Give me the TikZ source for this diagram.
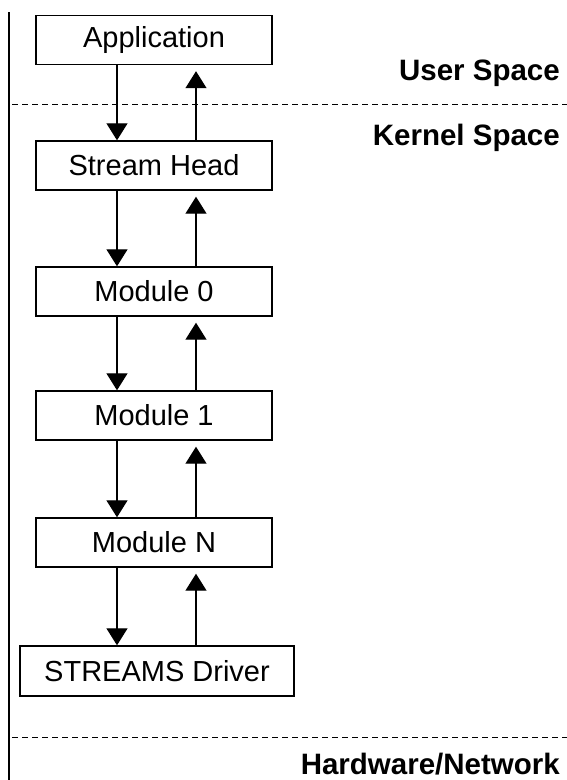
\documentclass[tikz,border=0pt]{standalone}
\usepackage{fontspec}
\setmainfont{Liberation Sans}
\usetikzlibrary{arrows.meta}
\begin{document}
\begin{tikzpicture}[x=1pt,y=-1pt,
  box/.style={draw,line width=1.4pt,minimum width=236pt,minimum height=49pt,inner sep=0pt,
    font=\fontsize{29}{32}\selectfont},
  arr/.style={line width=1.3pt,-{Triangle[width=21pt,length=17pt]}},
  sep/.style={line width=1pt,dash pattern=on 6pt off 4pt},
  lbl/.style={anchor=base east,inner sep=0pt,font=\fontsize{29.5}{32}\selectfont\bfseries}]
\useasboundingbox (0,0) rectangle (567,780);
\node[box] (app) at (154,40) {Application};
\node[box] (head) at (154,165.5) {Stream Head};
\node[box] (m0) at (154,291.5) {Module 0};
\node[box] (m1) at (154,415.5) {Module 1};
\node[box] (mn) at (154,542.5) {Module N};
\node[box,minimum width=274pt,minimum height=50pt] (drv) at (157,671) {STREAMS Driver};
\coordinate (dx) at (117,0);
\coordinate (ux) at (196,0);
\foreach \a/\b in {app/head,head/m0,m0/m1,m1/mn,mn/drv}{
  \draw[arr] (\a.south -| dx) -- (\b.north -| dx);
  \draw[arr,shorten >=6pt] (\b.north -| ux) -- (\a.south -| ux);
}
\coordinate (vt) at (9,12);
\coordinate (vb) at (9,780);
\draw[line width=1.2pt] (vt) -- (vb);
\coordinate (d1l) at (12,104);
\coordinate (d1r) at (567,104);
\coordinate (d2l) at (12,737);
\coordinate (d2r) at (567,737);
\draw[sep] (d1l) -- (d1r);
\draw[sep] (d2l) -- (d2r);
\node[lbl] (us) at (560,80) {User Space};
\node[lbl] (ks) at (560,145) {Kernel Space};
\node[lbl] (hw) at (560,774) {Hardware/Network};
\end{tikzpicture}
\end{document}
